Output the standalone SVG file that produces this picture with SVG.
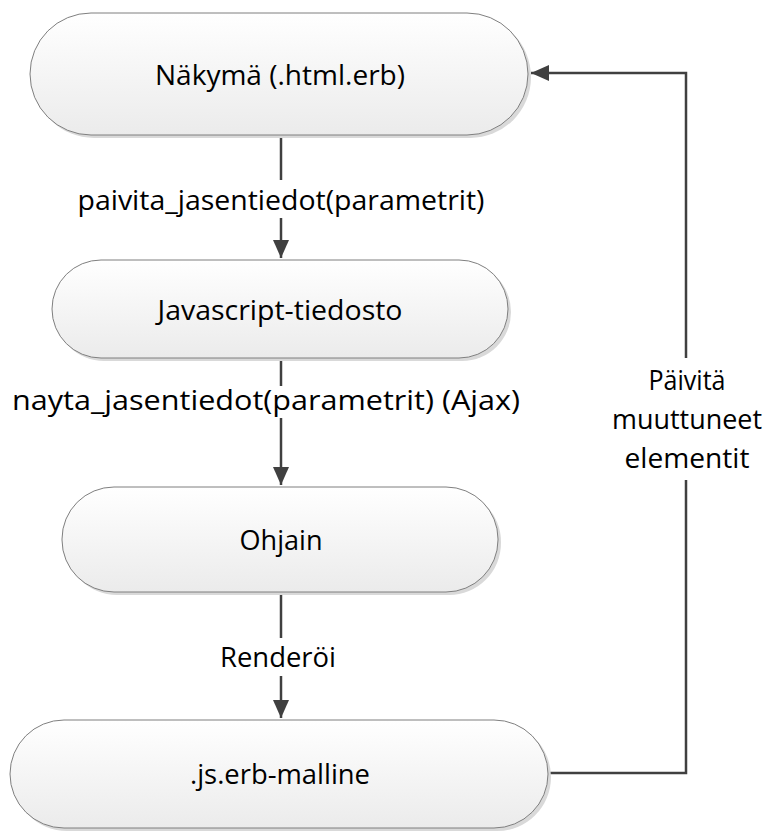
<svg xmlns="http://www.w3.org/2000/svg" width="773" height="832" viewBox="0 0 773 832">
<defs>
<linearGradient id="g" x1="0" y1="0" x2="0" y2="1">
<stop offset="0" stop-color="#ffffff"/>
<stop offset="1" stop-color="#ebebeb"/>
</linearGradient>
<marker id="arr" markerUnits="userSpaceOnUse" markerWidth="20" markerHeight="16" refX="18" refY="8" orient="auto">
<path d="M0,0 L18,8 L0,16 Z" fill="#404040"/>
</marker>
</defs>
<style>
.shadow{fill:#d9d9d9}
.node{fill:url(#g);stroke:#7f7f7f;stroke-width:1}
.t{font-family:"Open Sans","Liberation Sans",sans-serif;font-size:27px;fill:#000;text-anchor:middle}
.c{fill:none;stroke:#404040;stroke-width:2.5}
</style>
<rect width="773" height="832" fill="#fff"/>
<g id="connectors">
<path class="c" d="M281,135 V180"/>
<path class="c" d="M281,218 V258" marker-end="url(#arr)"/>
<path class="c" d="M281,358 V386"/>
<path class="c" d="M281,418 V485" marker-end="url(#arr)"/>
<path class="c" d="M281,592 V638"/>
<path class="c" d="M281,676 V718" marker-end="url(#arr)"/>
<path class="c" d="M548,773 H686 V480"/>
<path class="c" d="M686,358 V73 H531" marker-end="url(#arr)"/>
<text class="t" x="281" y="210" textLength="407" lengthAdjust="spacingAndGlyphs">paivita_jasentiedot(parametrit)</text>
<text class="t" x="266" y="410" textLength="508" lengthAdjust="spacingAndGlyphs">nayta_jasentiedot(parametrit) (Ajax)</text>
<text class="t" x="278" y="667" textLength="116" lengthAdjust="spacingAndGlyphs">Renderöi</text>
<text class="t" x="687" y="390" textLength="77" lengthAdjust="spacingAndGlyphs">Päivitä</text>
<text class="t" x="687" y="429" textLength="150" lengthAdjust="spacingAndGlyphs">muuttuneet</text>
<text class="t" x="687" y="468" textLength="125" lengthAdjust="spacingAndGlyphs">elementit</text>
</g>
<g id="n1">
<rect class="shadow" x="33" y="16" width="498" height="122" rx="61"/>
<rect class="node" x="30" y="13" width="498" height="122" rx="61"/>
<text class="t" x="280" y="85" textLength="250" lengthAdjust="spacingAndGlyphs">Näkymä (.html.erb)</text>
</g>
<g id="n2">
<rect class="shadow" x="55" y="263" width="456" height="98" rx="49"/>
<rect class="node" x="52" y="260" width="456" height="98" rx="49"/>
<text class="t" x="280" y="320" textLength="245" lengthAdjust="spacingAndGlyphs">Javascript-tiedosto</text>
</g>
<g id="n3">
<rect class="shadow" x="65" y="490" width="436" height="105" rx="52"/>
<rect class="node" x="62" y="487" width="436" height="105" rx="52"/>
<text class="t" x="281" y="550" textLength="83" lengthAdjust="spacingAndGlyphs">Ohjain</text>
</g>
<g id="n4">
<rect class="shadow" x="13" y="723" width="538" height="108" rx="54"/>
<rect class="node" x="10" y="720" width="538" height="108" rx="54"/>
<text class="t" x="280" y="784" textLength="180" lengthAdjust="spacingAndGlyphs">.js.erb-malline</text>
</g>
</svg>
